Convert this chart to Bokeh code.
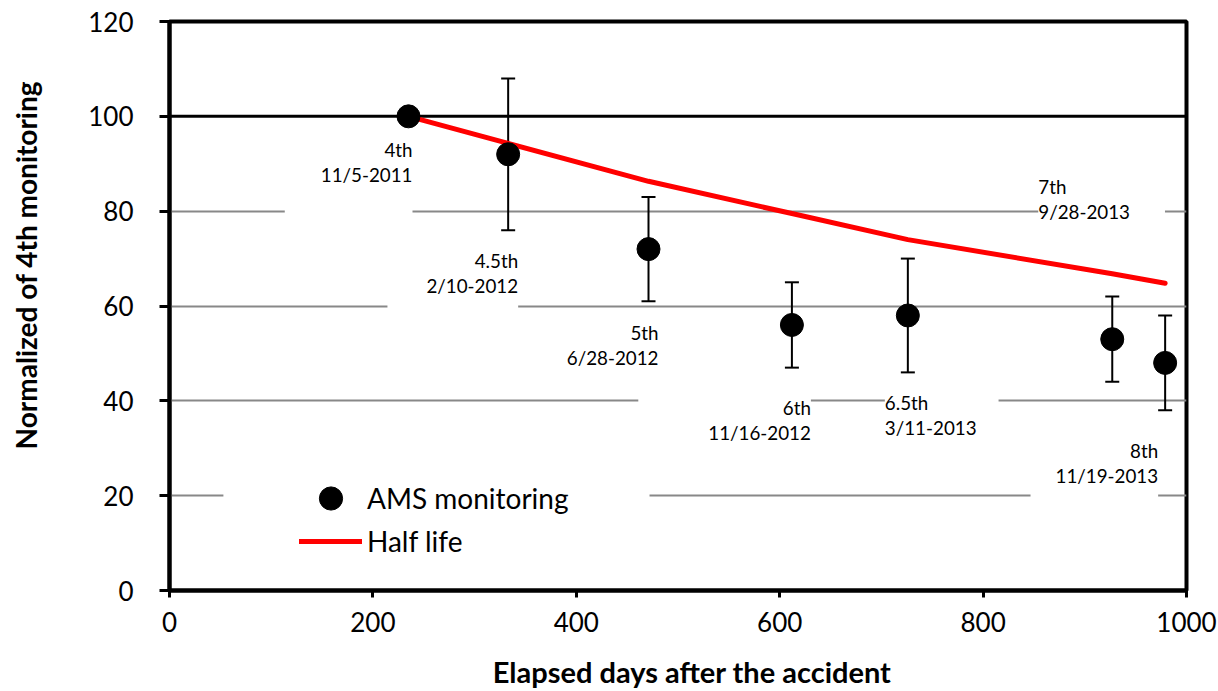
from bokeh.plotting import figure
from bokeh.models import (Range1d, Span, Whisker, ColumnDataSource, Legend, LegendItem,
                          BoxAnnotation, TeeHead)
from bokeh.core.properties import value
from bokeh.embed import file_html
from bokeh.resources import INLINE

# ---- data ----
days = [235, 333, 471, 612, 726, 927, 979]
ams = [100, 92, 72, 56, 58, 53, 48]
err_low = [100, 76, 61, 47, 46, 44, 38]
err_high = [100, 108, 83, 65, 70, 62, 58]
half_life = [100, 94.3, 86.3, 79.5, 74.0, 66.8, 64.8]
labels = ["4th\n11/5-2011", "4.5th\n2/10-2012", "5th\n6/28-2012", "6th\n11/16-2012",
          "6.5th\n3/11-2013", "7th\n9/28-2013", "8th\n11/19-2013"]
x_ticks = [0, 200, 400, 600, 800, 1000]
y_ticks = [0, 20, 40, 60, 80, 100, 120]
grid_ticks = [20, 40, 60, 80]
x_title = "Elapsed days after the accident"
y_title = "Normalized of 4th monitoring"

# ---- label layout: align, x offset px, y offset px, box padding (l, r, t, b) ----
label_layout = [
    ("right", 4, 18, (36, 0, 4, 39)),
    ("right", 10, 91, (39, 0, 4, 25)),
    ("right", 10, 68, (36, 0, 4, 10)),
    ("right", 19, 51, (70, 0, 20, 4)),
    ("left", -23, 63, (0, 22, 13, 4)),
    ("left", -74, -168, (0, 35, 4, 4)),
    ("right", -7, 72, (25, 0, 4, 25)),
]
# the reference's axis titles sit a little off-centre; non-breaking spaces shift them
NBSP = "\u00a0"
x_shift_spaces = 4
y_shift_spaces = 12

FONT = "Lato"

p = figure(width=1218, height=691, output_backend="svg", toolbar_location=None,
           x_range=Range1d(0, 1000), y_range=Range1d(0, 120),
           min_border_left=169, min_border_right=32, min_border_top=21, min_border_bottom=100)
p.background_fill_color = "white"
p.border_fill_color = "white"
p.outline_line_color = "black"
p.outline_line_width = 4

# axes
p.xaxis.ticker = x_ticks
p.yaxis.ticker = y_ticks
for ax in (p.xaxis[0], p.yaxis[0]):
    ax.axis_line_width = 4
    ax.axis_line_color = "black"
    ax.major_tick_line_width = 3
    ax.major_tick_line_color = "black"
    ax.major_tick_in = 0
    ax.minor_tick_line_color = None
    ax.major_label_text_font = FONT
    ax.major_label_text_font_size = "26px"
    ax.major_label_text_color = "black"
    ax.axis_label_text_font = FONT
    ax.axis_label_text_font_style = "bold"
    ax.axis_label_text_color = "black"
p.yaxis.major_tick_out = 10
p.xaxis.major_tick_out = 7
p.yaxis.major_label_standoff = 26
p.xaxis.major_label_standoff = 14
p.xaxis.axis_label = NBSP * x_shift_spaces + x_title
p.xaxis.axis_label_text_font_size = "29px"
p.xaxis.axis_label_standoff = 19
p.yaxis.axis_label = NBSP * y_shift_spaces + y_title
p.yaxis.axis_label_text_font_size = "28px"
p.yaxis.axis_label_standoff = 42

# grid
p.xgrid.visible = False
p.ygrid.ticker = grid_ticks
p.ygrid.grid_line_color = "#888888"
p.ygrid.grid_line_width = 2

p.add_layout(Span(location=100, dimension="width", line_color="black", line_width=3,
                  level="underlay"))

# point labels with white boxes
for i, (align, dx, dy, (pl, pr, pt, pb)) in enumerate(label_layout):
    p.text(x=[days[i]], y=[ams[i]], text=[labels[i]], x_offset=dx, y_offset=dy,
           text_align=align, text_baseline="top", text_font=value(FONT),
           text_font_size="18.8px", text_line_height=1.07, text_color="black",
           background_fill_color="white",
           padding=dict(left=pl, right=pr, top=pt, bottom=pb))

# half life line and points
r_line = p.line(days, half_life, line_color="#ff0000", line_width=5, line_cap="round")
r_pts = p.scatter(days, ams, size=23, color="black")

# error bars
err_src = ColumnDataSource(dict(x=days[1:], lower=err_low[1:], upper=err_high[1:]))
p.add_layout(Whisker(source=err_src, base="x", lower="lower", upper="upper",
                     line_color="black", line_width=2,
                     upper_head=TeeHead(size=14, line_width=2, line_color="black"),
                     lower_head=TeeHead(size=14, line_width=2, line_color="black")))

# legend (white mask behind it, two single-item legends)
p.add_layout(BoxAnnotation(left=53, right=472, bottom=12, top=30, fill_color="white",
                           fill_alpha=1, line_color=None))
common = dict(padding=0, margin=0, spacing=0, glyph_width=63, label_standoff=5,
              border_line_color=None, background_fill_alpha=0,
              label_text_font=FONT, label_text_font_size="28px", label_text_color="black")
leg1 = Legend(items=[LegendItem(label="AMS monitoring", renderers=[r_pts])],
              location=(130, 63), glyph_height=58, label_height=58, **common)
leg2 = Legend(items=[LegendItem(label="Half life", renderers=[r_line])],
              location=(130, 32), glyph_height=30, label_height=30, **common)
p.add_layout(leg1)
p.add_layout(leg2)

open("out.html", "w").write(file_html(p, INLINE))
